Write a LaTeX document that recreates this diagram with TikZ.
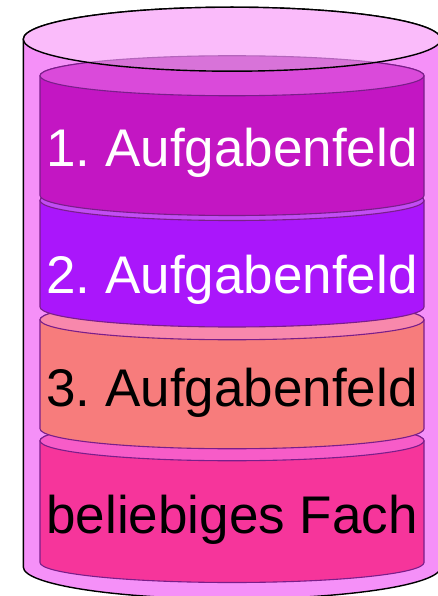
\documentclass[tikz,border=0pt]{standalone}
\usepackage{fontspec}
\setmainfont{Liberation Sans}
\frenchspacing
\definecolor{outerside}{HTML}{F590F8}
\definecolor{outertop}{HTML}{FABBFA}
\definecolor{overlapc}{HTML}{D873D9}
\definecolor{edgeP}{HTML}{7A1E8A}
\definecolor{sideA}{HTML}{C316C3}
\definecolor{topA}{HTML}{DA4ADA}
\definecolor{sideB}{HTML}{AA16FB}
\definecolor{topB}{HTML}{C24CF4}
\definecolor{sideC}{HTML}{F77C7C}
\definecolor{topC}{HTML}{F888AC}
\definecolor{sideD}{HTML}{F6359B}
\definecolor{topD}{HTML}{F75CC8}
\newcommand{\stacklayer}[4]{%
  \filldraw[fill=#3, layeredge] (40,#1) -- (40,#2)
    arc[start angle=180,end angle=360,x radius=192pt,y radius=20pt]
    -- (424,#1)
    arc[start angle=0,end angle=180,x radius=192pt,y radius=20pt] -- cycle;
  \filldraw[fill=#4, layeredge] (232,#1) ellipse[x radius=192pt,y radius=20pt];
}
\tikzset{
  layeredge/.style={draw=edgeP, line width=1.1pt},
  lbl/.style={font=\fontsize{53}{60}\selectfont, inner sep=0pt, anchor=base},
}
\begin{document}
\begin{tikzpicture}[x=1pt,y=-1pt]
\clip (0,0) rectangle (438,596);
\fill[white] (0,0) rectangle (438,596);
% outer cylinder body
\filldraw[fill=outerside, draw=black, line width=1.4pt]
  (23.3,39.2) -- (23.3,567)
  arc[start angle=180,end angle=360,x radius=208.7pt,y radius=32pt]
  -- (440.7,39.2)
  arc[start angle=0,end angle=180,x radius=208.7pt,y radius=32pt] -- cycle;
% inner layers, bottom to top
\stacklayer{440.75}{562.5}{sideD}{topD}
\stacklayer{319.75}{428.75}{sideC}{topC}
\stacklayer{200.5}{307}{sideB}{topB}
\stacklayer{75.75}{195.5}{sideA}{topA}
% outer top ellipse (see-through)
\fill[outertop] (232,39.2) ellipse[x radius=208.7pt,y radius=32pt];
\begin{scope}
  \clip (232,39.2) ellipse[x radius=208.7pt,y radius=32pt];
  \filldraw[fill=overlapc, draw=edgeP!55!outertop, line width=1.1pt]
    (232,75.75) ellipse[x radius=192pt,y radius=20pt];
\end{scope}
\draw[black, line width=1.4pt] (232,39.2) ellipse[x radius=208.7pt,y radius=32pt];
% labels
\node[lbl, text=white] (t1) at (232,166) {1. Aufgabenfeld};
\node[lbl, text=white] (t2) at (232,293) {2. Aufgabenfeld};
\node[lbl, text=black] (t3) at (232,406) {3. Aufgabenfeld};
\node[lbl, text=black] (t4) at (232,533) {beliebiges Fach};
\end{tikzpicture}
\end{document}
